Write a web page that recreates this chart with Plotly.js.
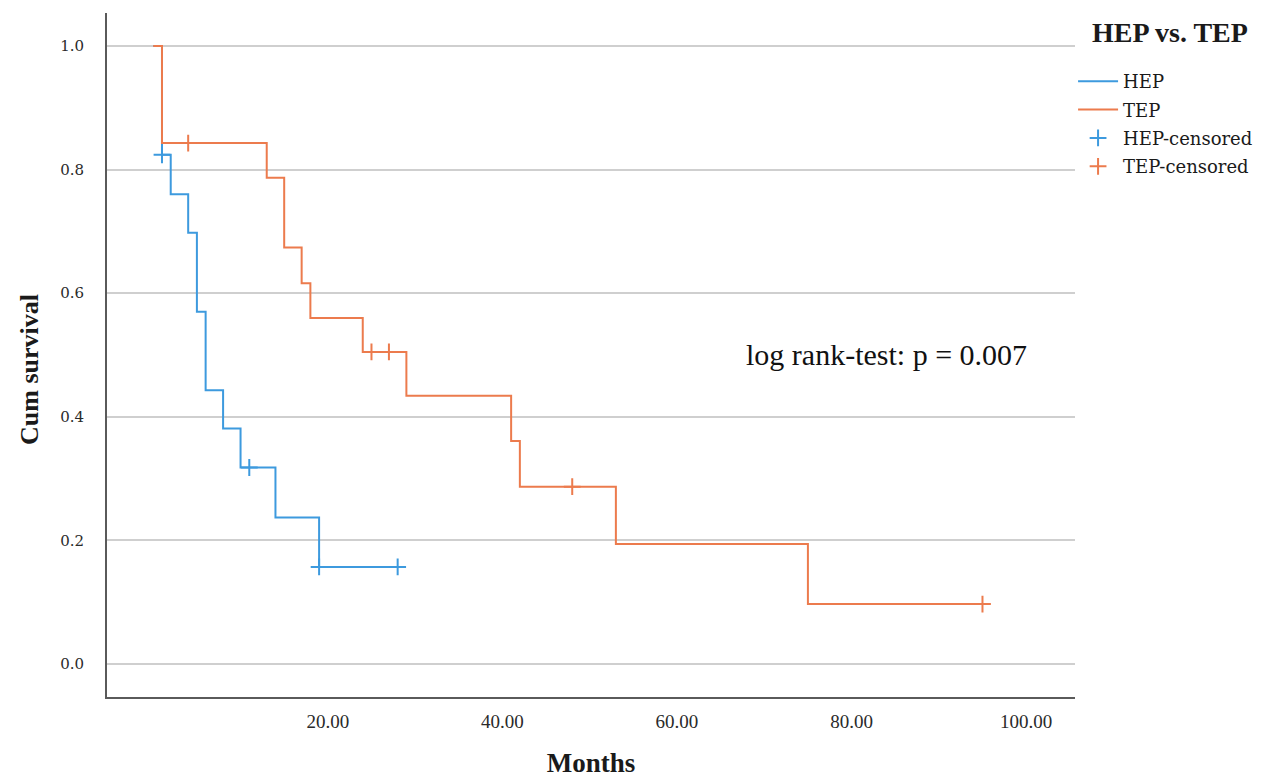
<!DOCTYPE html>
<html>
<head>
<meta charset="utf-8">
<script src="https://cdn.plot.ly/plotly-3.0.1.min.js"></script>
<style>
  html, body { margin: 0; padding: 0; background: #ffffff; }
  #chart { width: 1274px; height: 778px; }
</style>
</head>
<body>
<div id="chart"></div>
<script>
// Kaplan-Meier step data
const hepTimes = [0, 1, 2, 4, 5, 6, 8, 10, 14, 19, 28];
const hepSurvival = [1.0, 0.824, 0.760, 0.698, 0.570, 0.443, 0.381, 0.318, 0.237, 0.157, 0.157];
const hepCensorTimes = [1, 11, 19, 28];
const hepCensorSurvival = [0.824, 0.318, 0.157, 0.157];

const tepTimes = [0, 1, 13, 15, 17, 18, 24, 29, 41, 42, 53, 75, 95];
const tepSurvival = [1.0, 0.843, 0.787, 0.674, 0.616, 0.560, 0.505, 0.434, 0.361, 0.287, 0.194, 0.097, 0.097];
const tepCensorTimes = [4, 25, 27, 48, 95];
const tepCensorSurvival = [0.843, 0.505, 0.505, 0.287, 0.097];

const xTickValues = [20, 40, 60, 80, 100];
const xTickLabels = ['20.00', '40.00', '60.00', '80.00', '100.00'];
const yTickValues = [0.0, 0.2, 0.4, 0.6, 0.8, 1.0];
const yTickLabels = ['0.0', '0.2', '0.4', '0.6', '0.8', '1.0'];

const blue = '#3d9ade';
const orange = '#ec7b4d';
const serif = 'Liberation Serif, Times New Roman, serif';
const wideSerif = 'DejaVu Serif, serif';

const traces = [
  {
    x: hepTimes, y: hepSurvival, name: 'HEP', type: 'scatter', mode: 'lines', legendgroup: 'g1',
    line: { shape: 'hv', color: blue, width: 2 }
  },
  {
    x: tepTimes, y: tepSurvival, name: 'TEP', type: 'scatter', mode: 'lines', legendgroup: 'g2',
    line: { shape: 'hv', color: orange, width: 2 }
  },
  {
    x: hepCensorTimes, y: hepCensorSurvival, name: 'HEP-censored', type: 'scatter', mode: 'markers', legendgroup: 'g3',
    marker: { symbol: 'cross-thin', size: 12, color: blue, line: { color: blue, width: 2 } }
  },
  {
    x: tepCensorTimes, y: tepCensorSurvival, name: 'TEP-censored', type: 'scatter', mode: 'markers', legendgroup: 'g4',
    marker: { symbol: 'cross-thin', size: 12, color: orange, line: { color: orange, width: 2 } }
  }
];

const layout = {
  width: 1274, height: 778,
  paper_bgcolor: '#ffffff', plot_bgcolor: '#ffffff',
  margin: { l: 107, r: 199, t: 13, b: 81, pad: 0 },
  font: { family: serif, color: '#1a1a1a', size: 15 },
  showlegend: true,
  legend: {
    x: 0.998, xanchor: 'left', y: 0.927, yanchor: 'top',
    font: { family: wideSerif, size: 18, color: '#1a1a1a' },
    bgcolor: 'rgba(0,0,0,0)', tracegroupgap: 2, itemwidth: 40
  },
  xaxis: {
    range: [-5.3, 105.6],
    tickmode: 'array', tickvals: xTickValues, ticktext: xTickLabels,
    showgrid: false, zeroline: false,
    showline: true, linecolor: '#5a5a5a', linewidth: 2,
    ticks: '', ticklabelstandoff: 6,
    tickfont: { family: serif, size: 19, color: '#2a2a2a' },
    title: { text: '<b>Months</b>', font: { family: serif, size: 27, color: '#1a1a1a' }, standoff: 22 },
    automargin: false
  },
  yaxis: {
    range: [-0.0534, 1.0534],
    tickmode: 'array', tickvals: yTickValues, ticktext: yTickLabels,
    showgrid: true, gridcolor: '#cfcfcf', gridwidth: 2,
    zeroline: false,
    showline: true, linecolor: '#5a5a5a', linewidth: 2,
    ticks: '', ticklabelstandoff: 18,
    tickfont: { family: wideSerif, size: 15, color: '#2a2a2a' },
    automargin: false
  },
  annotations: [
    {
      x: 84, y: 0.501, xref: 'x', yref: 'y',
      xanchor: 'center', yanchor: 'middle',
      text: 'log rank-test: p = 0.007', showarrow: false,
      font: { family: serif, size: 30, color: '#111111' }
    },
    {
      x: 30, y: 370, xref: 'paper', yref: 'paper',
      xanchor: 'center', yanchor: 'middle', textangle: -90,
      text: '<b>Cum survival</b>', showarrow: false,
      font: { family: serif, size: 26, color: '#1a1a1a' }
    },
    {
      x: 1170, y: 32, xref: 'paper', yref: 'paper',
      xanchor: 'center', yanchor: 'middle',
      text: '<b>HEP vs. TEP</b>', showarrow: false,
      font: { family: serif, size: 28, color: '#1a1a1a' }
    }
  ]
};
// convert pixel positions of the free-standing titles into paper coordinates
const plotL = 107, plotW = 1274 - 107 - 199, plotT = 13, plotH = 778 - 13 - 81;
layout.annotations[1].x = (30 - plotL) / plotW;
layout.annotations[1].y = (plotT + plotH - 370) / plotH;
layout.annotations[2].x = (1170 - plotL) / plotW;
layout.annotations[2].y = (plotT + plotH - 32) / plotH;

Plotly.newPlot('chart', traces, layout, { displayModeBar: false, staticPlot: true });
</script>
</body>
</html>
